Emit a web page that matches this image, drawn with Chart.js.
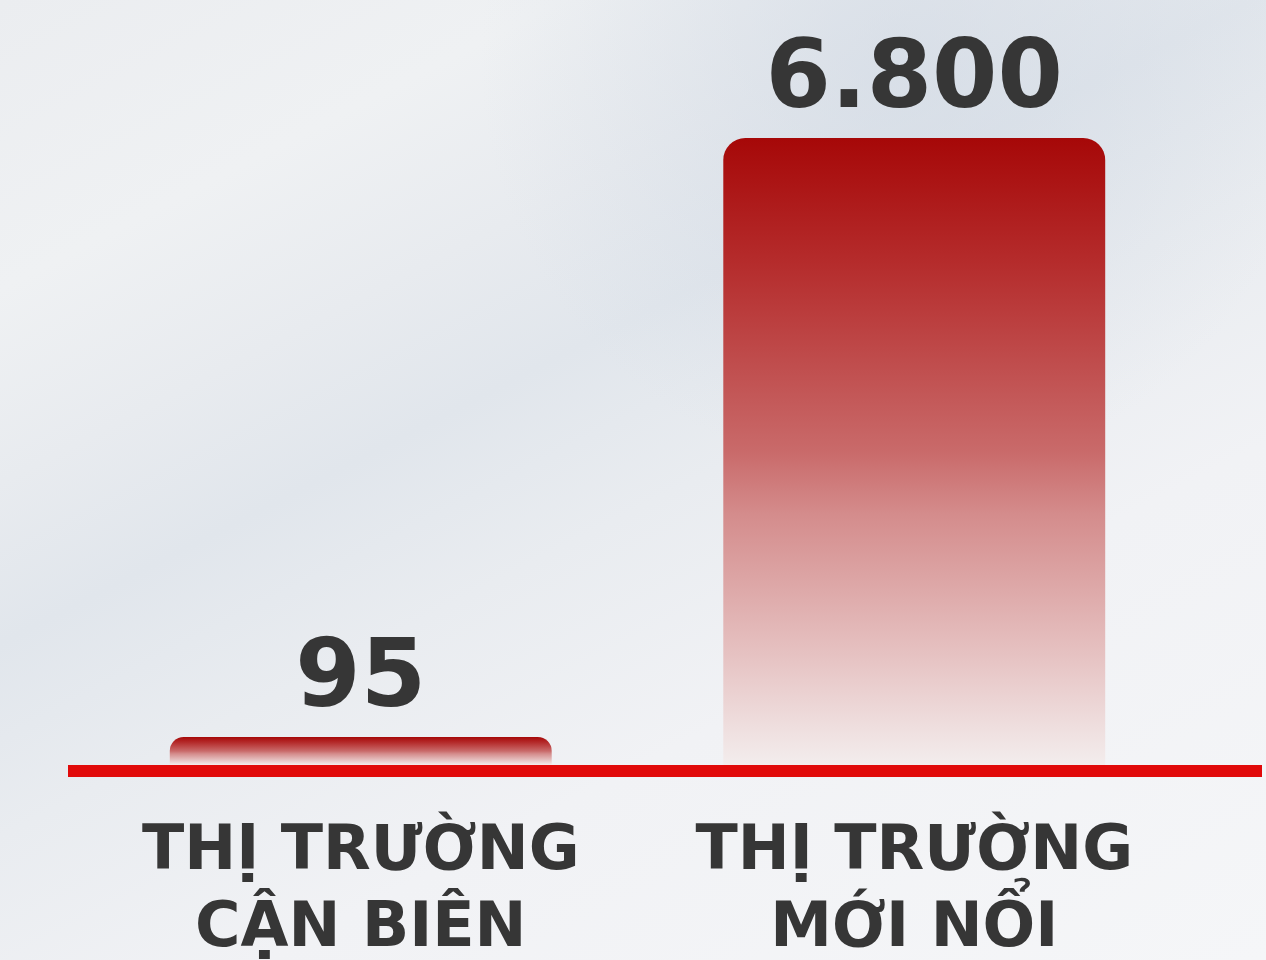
<!DOCTYPE html>
<html>
<head>
<meta charset="utf-8">
<script src="https://cdn.jsdelivr.net/npm/chart.js@4.4.1/dist/chart.umd.min.js"></script>
<style>
  html, body { margin: 0; padding: 0; overflow: hidden; background: #f0f2f4; }
  #wrap { width: 1266px; height: 960px; overflow: hidden; position: relative; }
  canvas { display: block; }
</style>
</head>
<body>
<div id="wrap"><canvas id="c" width="1266" height="960"></canvas></div>
<script>
// ---- data ----
const categories = [["THỊ TRƯỜNG", "CẬN BIÊN"], ["THỊ TRƯỜNG", "MỚI NỔI"]];
const values = [95, 6800];
const valueLabels = ["95", "6.800"];

const MIN_BAR = 28;
const FONT = "'DejaVu Sans', sans-serif";

function barGradient(context) {
  const chart = context.chart;
  const { ctx, chartArea, scales } = chart;
  if (!chartArea || context.type !== 'data') return '#b01010';
  const base = scales.y.getPixelForValue(0);
  let top = scales.y.getPixelForValue(context.raw);
  if (base - top < MIN_BAR) top = base - MIN_BAR;
  const g = ctx.createLinearGradient(0, top, 0, base);
  g.addColorStop(0, '#a60808');
  g.addColorStop(0.2, '#b52c2c');
  g.addColorStop(0.5, '#c96a6a');
  g.addColorStop(0.6, '#d48c8c');
  g.addColorStop(0.8, '#e4bcbc');
  g.addColorStop(0.93, '#eedcdc');
  g.addColorStop(1, '#f3eded');
  return g;
}

const bgPlugin = {
  id: 'bg',
  beforeDraw(chart) {
    const { ctx, width, height } = chart;
    ctx.save();
    const nx = 0.457, ny = 0.889;
    const L = 1432;
    const g = ctx.createLinearGradient(0, 0, nx * L, ny * L);
    g.addColorStop(0, '#ebedf0');
    g.addColorStop(0.18, '#eff1f3');
    g.addColorStop(0.3, '#e8ebef');
    g.addColorStop(0.4, '#e1e6ec');
    g.addColorStop(0.52, '#e9ecf0');
    g.addColorStop(0.68, '#f1f2f5');
    g.addColorStop(1, '#f5f6f8');
    ctx.fillStyle = g;
    ctx.fillRect(0, 0, width, height);
    // soft bluish glow upper right
    const r = ctx.createRadialGradient(900, 60, 0, 900, 60, 420);
    r.addColorStop(0, 'rgba(205,214,226,0.55)');
    r.addColorStop(1, 'rgba(205,214,226,0)');
    ctx.fillStyle = r;
    ctx.fillRect(0, 0, width, height);
    ctx.restore();
  }
};

const overlayPlugin = {
  id: 'overlay',
  afterDatasetsDraw(chart) {
    const { ctx } = chart;
    const base = chart.scales.y.getPixelForValue(0);
    ctx.save();
    // baseline
    ctx.fillStyle = '#e10a0a';
    ctx.fillRect(68, base, 1194, 12);
    // value labels
    ctx.fillStyle = '#363636';
    ctx.font = "bold 94px " + FONT;
    ctx.textAlign = 'center';
    ctx.textBaseline = 'alphabetic';
    const meta = chart.getDatasetMeta(0);
    meta.data.forEach((el, i) => {
      ctx.fillText(valueLabels[i], el.x, el.y - 31);
    });
    ctx.restore();
  }
};

new Chart(document.getElementById('c'), {
  type: 'bar',
  data: {
    labels: categories,
    datasets: [{
      data: values,
      backgroundColor: barGradient,
      borderWidth: 0,
      borderRadius: { topLeft: 22, topRight: 22, bottomLeft: 0, bottomRight: 0 },
      borderSkipped: false,
      minBarLength: MIN_BAR,
      barPercentage: 0.69,
      categoryPercentage: 1.0
    }]
  },
  options: {
    responsive: false,
    animation: false,
    devicePixelRatio: 1,
    layout: { padding: { top: 138, left: 84, right: 75, bottom: 0 } },
    plugins: { legend: { display: false }, tooltip: { enabled: false } },
    scales: {
      y: { display: false, min: 0, max: 6800 },
      x: {
        grid: { display: false, drawTicks: false },
        border: { display: false },
        ticks: {
          color: '#363636',
          font: { family: FONT, size: 62, weight: 'bold', lineHeight: 1.25 },
          padding: 49,
          maxRotation: 0,
          autoSkip: false
        },
        afterFit(scale) { scale.height = 195; }
      }
    }
  },
  plugins: [bgPlugin, overlayPlugin]
});
</script>
</body>
</html>
